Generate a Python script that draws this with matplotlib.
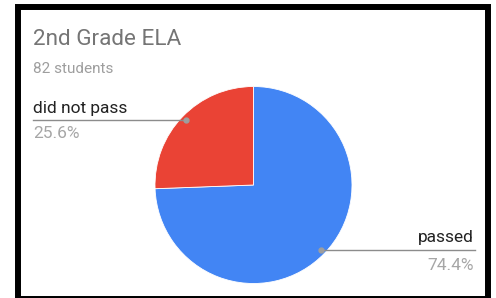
import matplotlib.pyplot as plt
import numpy as np
from matplotlib.patches import Rectangle

plt.rcParams['font.family'] = ['Roboto', 'DejaVu Sans']

title = "2nd Grade ELA"
subtitle = "82 students"
labels = ["passed", "did not pass"]
shares = [74.4, 25.6]
colors = ["#4285F4", "#EA4335"]

W, H = 496, 298
fig = plt.figure(figsize=(W / 100, H / 100), dpi=100)

# pie axes: centre (253.5, 185) px, radius 98.5 px
cx, cy, r = 253.5, 185, 98.5
ax = fig.add_axes([(cx - r) / W, (H - cy - r) / H, 2 * r / W, 2 * r / H])
wedges, _ = ax.pie(shares, colors=colors, startangle=90, counterclock=False,
                   wedgeprops=dict(linewidth=0.6, edgecolor="white"))
ax.set_xlim(-1, 1)
ax.set_ylim(-1, 1)
ax.axis("off")


def px(x, y):
    # pixel (from top-left) -> figure fraction
    return x / W, 1 - y / H


# dot positions inside each wedge at mid angle
dots = []
for w in wedges:
    mid = np.deg2rad((w.theta1 + w.theta2) / 2)
    dx, dy = 0.95 * np.cos(mid), 0.95 * np.sin(mid)
    dots.append((cx + dx * r, cy - dy * r))

line_col = "#8c8c8c"
# passed (right side)
x0, y0 = dots[0]
fig.add_artist(plt.Line2D([x0 / W, 475 / W], [1 - y0 / H, 1 - y0 / H],
                          color=line_col, lw=1.0))
fig.add_artist(plt.Line2D([x0 / W], [1 - y0 / H], marker="o", ms=3.5,
                          color="#9e9e9e", lw=0))
fig.text(*px(474, 242), labels[0], ha="right", va="baseline",
         fontsize=12.5, color="#222222")
fig.text(*px(474, 270), f"{shares[0]}%", ha="right", va="baseline",
         fontsize=12.5, color="#a6a6a6")

# did not pass (left side)
x1, y1 = dots[1]
fig.add_artist(plt.Line2D([33 / W, x1 / W], [1 - y1 / H, 1 - y1 / H],
                          color=line_col, lw=1.0))
fig.add_artist(plt.Line2D([x1 / W], [1 - y1 / H], marker="o", ms=3.5,
                          color="#9e9e9e", lw=0))
fig.text(*px(33, 113), labels[1], ha="left", va="baseline",
         fontsize=12.5, color="#222222")
fig.text(*px(33, 138), f"{shares[1]}%", ha="left", va="baseline",
         fontsize=12.5, color="#a6a6a6")

fig.text(*px(33, 45), title, ha="left", va="baseline",
         fontsize=16.2, color="#757575")
fig.text(*px(33, 73), subtitle, ha="left", va="baseline",
         fontsize=11, color="#9e9e9e")

# black frame
fig.add_artist(Rectangle((18 / W, 1 - 298.5 / H), 470 / W, 291.5 / H,
                         transform=fig.transFigure, fill=False,
                         edgecolor="black", lw=4.3))

fig.savefig("out.png", dpi=100)
